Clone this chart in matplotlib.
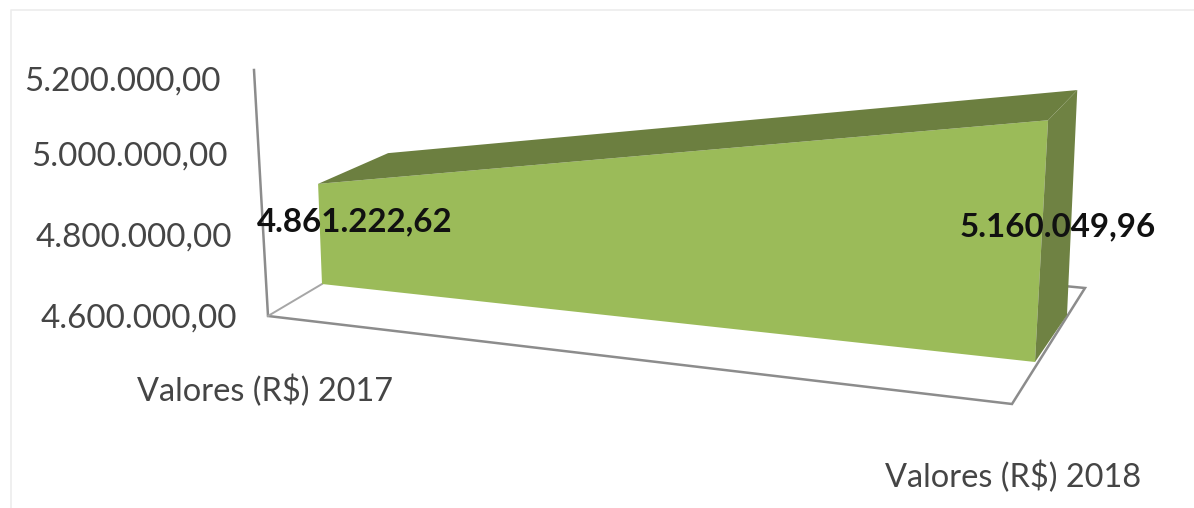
import matplotlib
matplotlib.use('Agg')
import matplotlib.pyplot as plt
from matplotlib.patches import Polygon

categories = ['Valores (R$) 2017', 'Valores (R$) 2018']
values = [4861222.62, 5160049.96]
value_labels = ['4.861.222,62', '5.160.049,96']
ticks = [4600000, 4800000, 5000000, 5200000]
tick_labels = ['4.600.000,00', '4.800.000,00', '5.000.000,00', '5.200.000,00']

plt.rcParams['font.family'] = ['Lato', 'DejaVu Sans']

VMIN, VMAX = ticks[0], ticks[-1]

# pixel corners of the 3d box: (category, depth) -> (x, y) at VMIN and at VMAX
corners = {
    (0, 0): ((322, 284), (313, 54)),
    (1, 0): ((1035, 362), (1049, 103)),
    (0, 1): ((392, 255), (383, 21)),
    (1, 1): ((1067, 315), (1078, 74)),
}


def project(cat, value, depth):
    t = (value - VMIN) / (VMAX - VMIN)
    (x0, y0), (x1, y1) = corners[(cat, depth)]
    return x0 + (x1 - x0) * t, y0 + (y1 - y0) * t


fig = plt.figure(figsize=(11.94, 5.08), dpi=100)
ax = fig.add_axes([0, 0, 1, 1])
ax.set_xlim(0, 1194)
ax.set_ylim(508, 0)
ax.axis('off')

# image frame
ax.plot([11, 11, 1194], [508, 10, 10], color='#ececec', lw=1.2)

# walls and floor
axis_color = '#8c8c8c'
ax.plot([254, 268, 1012, 1085, 1064], [70, 316, 404, 288, 286], color=axis_color, lw=1.8,
        solid_joinstyle='miter')
ax.plot([268, 322], [316, 284], color='#a6a6a6', lw=1.4)

front = '#9BBB59'
dark = '#6F8243'
top_col = '#6C7F40'

ax.add_patch(Polygon([project(0, VMIN, 0), project(0, values[0], 0),
                      project(1, values[1], 0), project(1, VMIN, 0)],
                     closed=True, fc=front, ec='none', zorder=3))
ax.add_patch(Polygon([project(0, values[0], 0), project(0, values[0], 1),
                      project(1, values[1], 1), project(1, values[1], 0)],
                     closed=True, fc=top_col, ec='none', zorder=3))
ax.add_patch(Polygon([project(1, VMIN, 0), project(1, values[1], 0),
                      project(1, values[1], 1), project(1, VMIN, 1)],
                     closed=True, fc=dark, ec='none', zorder=3))

# value axis labels
tick_right = [237, 232, 228, 221]
tick_y = [319, 238, 157, 82]
for lab, x, y in zip(tick_labels, tick_right, tick_y):
    ax.text(x, y, lab, ha='right', va='center', fontsize=23.9, color='#454545')

# category labels
ax.text(137, 391, categories[0], ha='left', va='center', fontsize=23.4, color='#454545')
ax.text(885, 477, categories[1], ha='left', va='center', fontsize=23.4, color='#454545')

# data labels
ax.text(257, 222, value_labels[0], ha='left', va='center', fontsize=23.9, fontweight='bold',
        color='#111111', zorder=5)
ax.text(960, 227, value_labels[1], ha='left', va='center', fontsize=23.9, fontweight='bold',
        color='#111111', zorder=5)

fig.savefig('out.png', dpi=100)
